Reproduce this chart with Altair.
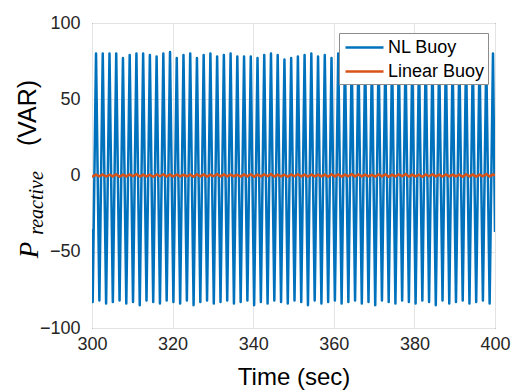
import altair as alt
import pandas as pd

# ---- data ----
series_names = ["NL Buoy", "Linear Buoy"]
series_colors = ["#0072BD", "#D95319"]

x_ticks = [300, 320, 340, 360, 380, 400]
y_ticks = [-100, -50, 0, 50, 100]

start_time, start_value = 300.0, -35
end_time, end_value = 400.0, -37

peak_times = [301.00, 302.67, 304.34, 306.01, 307.68, 309.35, 311.02, 312.69, 314.36, 316.03,
              317.70, 319.36, 321.03, 322.70, 324.37, 326.04, 327.71, 329.38, 331.05, 332.72,
              334.39, 336.06, 337.73, 339.40, 341.07, 342.74, 344.41, 346.08, 347.75, 349.42,
              351.09, 352.75, 354.42, 356.09, 357.76, 359.43, 361.10, 362.77, 364.44, 366.11,
              367.78, 369.45, 371.12, 372.79, 374.46, 376.13, 377.80, 379.47, 381.14, 382.81,
              384.48, 386.14, 387.81, 389.48, 391.15, 392.82, 394.49, 396.16, 397.83, 399.50]
peak_values = [80, 80, 80, 80, 77, 79, 80, 80, 79, 78, 80, 81, 77, 79, 80, 77,
               79, 80, 78, 79, 80, 78, 78, 78, 77, 79, 80, 79, 76, 77, 78,
               79, 80, 78, 79, 77, 80, 79, 78, 80, 79, 77, 80, 78, 79, 80, 78, 77, 79, 80,
               78, 79, 80, 77, 79, 80, 78, 79, 77, 80]

trough_times = [300.17, 301.83, 303.50, 305.17, 306.84, 308.51, 310.18, 311.85, 313.52, 315.19,
                316.86, 318.53, 320.20, 321.87, 323.54, 325.21, 326.88, 328.55, 330.22, 331.89,
                333.55, 335.22, 336.89, 338.56, 340.23, 341.90, 343.57, 345.24, 346.91, 348.58,
                350.25, 351.92, 353.59, 355.26, 356.93, 358.60, 360.27, 361.94, 363.61, 365.28,
                366.95, 368.61, 370.28, 371.95, 373.62, 375.29, 376.96, 378.63, 380.30, 381.97,
                383.64, 385.31, 386.98, 388.65, 390.32, 391.99, 393.66, 395.33, 397.00, 398.67]
trough_values = [-83, -82, -84, -83, -82, -84, -83, -85, -82, -83, -84, -82, -83, -84, -82, -85, -83, -82, -84, -83,
                 -82, -84, -83, -82, -85, -83, -84, -82, -83, -84, -82, -83, -85, -82, -84, -83, -82, -84, -83, -82,
                 -84, -83, -85, -82, -83, -84, -82, -83, -84, -82, -83, -85, -82, -84, -83, -82, -84, -83, -82, -84]

lin_peak_values = [0.6, 0.7, 0.5, 0.8, 0.6, 0.7, 0.9, 0.6, 0.5, 0.7, 0.8, 0.6, 0.7, 0.5, 0.6, 0.8, 0.7, 0.6, 0.9, 0.7,
                   0.6, 0.5, 0.7, 0.8, 0.6, 0.7, 0.9, 0.6, 0.5, 0.7, 0.8, 0.6, 0.7, 0.5, 0.6, 0.8, 0.7, 0.6, 0.9, 0.7,
                   0.6, 0.5, 0.7, 0.8, 0.6, 0.7, 0.9, 0.6, 0.5, 0.7, 0.8, 0.6, 0.7, 0.5, 0.6, 0.8, 0.7, 0.6, 0.9, 0.7]
lin_trough_values = [-0.6, -0.5, -0.7, -0.6, -0.8, -0.6, -0.5, -0.7, -0.6, -0.8, -0.5, -0.6, -0.7, -0.6, -0.5, -0.8, -0.6, -0.7, -0.5, -0.6,
                     -0.6, -0.5, -0.7, -0.6, -0.8, -0.6, -0.5, -0.7, -0.6, -0.8, -0.5, -0.6, -0.7, -0.6, -0.5, -0.8, -0.6, -0.7, -0.5, -0.6,
                     -0.6, -0.5, -0.7, -0.6, -0.8, -0.6, -0.5, -0.7, -0.6, -0.8, -0.5, -0.6, -0.7, -0.6, -0.5, -0.8, -0.6, -0.7, -0.5, -0.6]

# ---- tables ----
nl = pd.DataFrame({
    "t": [start_time] + trough_times + peak_times + [end_time],
    "v": [start_value] + trough_values + peak_values + [end_value],
}).sort_values("t")
nl["series"] = series_names[0]

lin = pd.DataFrame({
    "t": [start_time] + trough_times + peak_times + [end_time],
    "v": [0.0] + lin_trough_values + lin_peak_values + [0.0],
}).sort_values("t")
lin["series"] = series_names[1]

FONT = "Liberation Sans"
color = alt.Color("series:N",
                  scale=alt.Scale(domain=series_names, range=series_colors),
                  legend=alt.Legend(title=None, orient="none", legendX=247, legendY=10,
                                    symbolType="M-1.9,0L1.9,0", symbolSize=400, symbolStrokeWidth=2.4,
                                    symbolOffset=11,
                                    labelFontSize=18, labelFont=FONT, labelColor="#000000",
                                    labelOffset=12, padding=3, rowPadding=3,
                                    fillColor="white", strokeColor="#8c8c8c"))

x = alt.X("t:Q", scale=alt.Scale(domain=[300, 400], nice=False),
          axis=alt.Axis(values=x_ticks, title="Time (sec)", format="d", labelFlush=False))
y = alt.Y("v:Q", scale=alt.Scale(domain=[-100, 100], nice=False),
          axis=alt.Axis(values=y_ticks, title=None, format="d", labelFlush=False))

nl_line = alt.Chart(nl).mark_line(strokeWidth=2.5, strokeJoin="round", clip=True).encode(
    x=x, y=y, color=color, order="t:Q")
lin_line = alt.Chart(lin).mark_line(strokeWidth=2.5, strokeJoin="round", clip=True).encode(
    x=x, y=y, color=color, order="t:Q")

# y axis title in pieces (P with subscript "reactive", then "(VAR)")
ttl_P = alt.Chart(pd.DataFrame({"s": ["P"]})).mark_text(
    angle=270, font="Liberation Serif", fontStyle="italic", fontSize=27, color="#000000",
    align="center", baseline="middle").encode(text="s:N", x=alt.value(-62), y=alt.value(227))
ttl_sub = alt.Chart(pd.DataFrame({"s": ["reactive"]})).mark_text(
    angle=270, font="Liberation Serif", fontStyle="italic", fontSize=20, color="#000000",
    align="center", baseline="middle").encode(text="s:N", x=alt.value(-55), y=alt.value(180))
ttl_unit = alt.Chart(pd.DataFrame({"s": ["(VAR)"]})).mark_text(
    angle=270, font=FONT, fontSize=25, color="#000000",
    align="center", baseline="middle").encode(text="s:N", x=alt.value(-64), y=alt.value(90))

chart = alt.layer(nl_line, lin_line, ttl_P, ttl_sub, ttl_unit).properties(
    width=403, height=305,
    autosize=alt.AutoSizeParams(type="none"),
    padding={"left": 92, "top": 23, "right": 20, "bottom": 64},
    background="white",
).configure_view(
    stroke="#262626", strokeWidth=1
).configure_axis(
    domain=False, ticks=False, grid=True, gridColor="#e3e3e3", gridWidth=1,
    labelFont=FONT, labelFontSize=18, labelColor="#262626",
    titleFont=FONT, titleFontSize=24, titleFontWeight="normal", titleColor="#000000",
).configure_axisX(
    labelPadding=7, titlePadding=12
).configure_axisY(
    labelPadding=12
)

chart.save("out.html", embed_options={"renderer": "svg", "actions": False})
